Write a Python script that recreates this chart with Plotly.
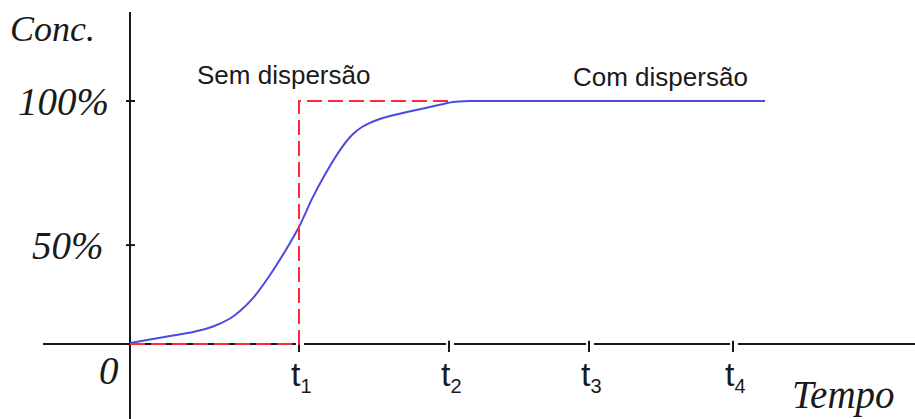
import plotly.graph_objects as go

# Concentration response with axial dispersion (time in arbitrary units, concentration in %)
tempo_com = [0, 2.0, 4.3, 6.3, 8.3, 10.0, 11.0, 12.3, 14.0, 16.0, 17.0, 18.2, 19.3,
             21.0, 22.2, 23.2, 24.7, 26.0, 27.7, 30.0, 32.3, 34.0, 40.0, 63.5]
conc_com = [0.4, 1.85, 3.5, 4.94, 7.2, 10.5, 13.6, 18.9, 28.4, 41.6, 49.0, 59.7, 68.3,
            79.8, 86.0, 89.3, 92.2, 93.8, 95.5, 97.5, 99.6, 99.95, 100, 100]

# Ideal plug flow (no dispersion): a step at t1
tempo_sem = [0, 16.9, 16.9, 32.3]
conc_sem = [0, 0, 100, 100]

# Axis ticks
t_ticks = [16.9, 31.9, 45.9, 60.3]
t_subs = ["1", "2", "3", "4"]
y_ticks = [40.7, 100]
y_labels = ["50%", "100%"]

X_RANGE = [-13.0, 78.5]
Y_RANGE = [-30.86, 141.56]

SERIF = "Liberation Serif, Times New Roman, serif"
SANS = "Liberation Sans, Arial, sans-serif"
INK = "#1a1a1a"

fig = go.Figure()

fig.add_trace(go.Scatter(
    x=tempo_com, y=conc_com, mode="lines",
    line=dict(color="#4b4be0", width=2, shape="spline", smoothing=0.6),
    hoverinfo="skip", showlegend=False,
))
fig.add_trace(go.Scatter(
    x=tempo_sem, y=conc_sem, mode="lines",
    line=dict(color="#ff2b3d", width=2, dash="15px,6px"),
    hoverinfo="skip", showlegend=False,
))

shapes = []
axis_line = dict(color=INK, width=2)

# Time axis, drawn in pieces with small breaks at each tick mark
x_edges = [-8.7]
for t in t_ticks:
    x_edges += [t - 0.3, t + 0.5]
x_edges.append(X_RANGE[1])
for a, b in zip(x_edges[0::2], x_edges[1::2]):
    shapes.append(dict(type="line", xref="x", yref="y", x0=a, x1=b, y0=0, y1=0,
                       line=axis_line, layer="below"))
for t in t_ticks:
    shapes.append(dict(type="line", xref="x", yref="y", x0=t, x1=t, y0=1.3, y1=-3.3,
                       line=axis_line, layer="below"))

# Concentration axis
shapes.append(dict(type="line", xref="x", yref="y", x0=0, x1=0, y0=136.6, y1=Y_RANGE[0],
                   line=axis_line, layer="below"))
for v in y_ticks:
    shapes.append(dict(type="line", xref="x", yref="y", x0=-0.4, x1=0.5, y0=v, y1=v,
                       line=axis_line, layer="below"))

annotations = []


def note(text, x, y, font, size, xanchor="center"):
    annotations.append(dict(text=text, x=x, y=y, xref="x", yref="y", showarrow=False,
                            xanchor=xanchor, yanchor="middle",
                            font=dict(family=font, size=size, color=INK)))


note("<i>Conc.</i>", -3.3, 129.6, SERIF, 36, "right")
for v, lab in zip(y_ticks, y_labels):
    note(f"<i>{lab}</i>", -1.9 if lab == "100%" else -2.4, v, SERIF, 39, "right")
note("<i>0</i>", -0.9, -10.7, SERIF, 39, "right")
for t, s in zip(t_ticks, t_subs):
    note(f"t<sub><span style='font-size:20px'>{s}</span></sub>", t + 0.25, -13.0, SANS, 34)
note("<i>Tempo</i>", 71.3, -21.0, SERIF, 39)
note("Sem dispersão", 15.3, 110.7, SANS, 26)
note("Com dispersão", 53.0, 109.9, SANS, 26)

fig.update_layout(
    width=915, height=419,
    margin=dict(l=0, r=0, t=0, b=0),
    paper_bgcolor="white", plot_bgcolor="white",
    xaxis=dict(range=X_RANGE, visible=False, fixedrange=True),
    yaxis=dict(range=Y_RANGE, visible=False, fixedrange=True),
    shapes=shapes, annotations=annotations,
    showlegend=False,
)

fig.write_html("out.html", config={"displayModeBar": False})
